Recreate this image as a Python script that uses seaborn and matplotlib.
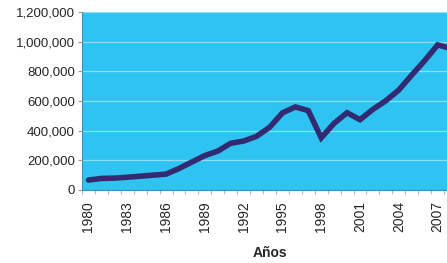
import numpy as np
import pandas as pd
import matplotlib
matplotlib.use("Agg")
import matplotlib.pyplot as plt
import seaborn as sns
from matplotlib.ticker import FuncFormatter, MultipleLocator

years = list(range(1980, 2009))
values = [67000, 78000, 80000, 86000, 93000, 100000, 107000, 145000, 189000, 232000,
          262000, 315000, 330000, 362000, 422000, 520000, 560000, 535000, 352000, 450000,
          521000, 474000, 544000, 602000, 674000, 775000, 872000, 978000, 955000]
label_years = [1980, 1983, 1986, 1989, 1992, 1995, 1998, 2001, 2004, 2007]

df = pd.DataFrame({"year": years, "value": values})

sns.set_style("white")
plt.rcParams['font.family'] = ['Liberation Sans', 'DejaVu Sans']

fig = plt.figure(figsize=(4.47, 2.63), dpi=100)
ax = fig.add_axes([82/447, 73/263, 375/447, 178/263])
ax.set_facecolor("#2fc3f1")

# grid
for v in range(200000, 1200001, 200000):
    ax.axhline(v, color="#8fdcf7", lw=0.9, zorder=1)

sns.lineplot(data=df, x="year", y="value", color="#322b72", lw=4, ax=ax,
             zorder=3, solid_joinstyle="miter")

ax.set_xlim(1979.5, 2008.5)
ax.set_ylim(0, 1200000)
ax.set_yticks(range(0, 1200001, 200000))
ax.yaxis.set_major_formatter(FuncFormatter(lambda v, p: f"{int(v):,}"))
ax.tick_params(axis="y", length=3, width=0.8, color="#999999", pad=2, labelsize=9.5,
               left=True)

ax.set_xticks(label_years)
ax.set_xticklabels([str(y) for y in label_years], rotation=90)
ax.xaxis.set_minor_locator(MultipleLocator(1, offset=0.5))
ax.tick_params(axis="x", which="major", length=0, pad=8, labelsize=10)
ax.tick_params(axis="x", which="minor", length=3, width=0.8, color="#aab8c8", bottom=True)

for s in ["top", "right"]:
    ax.spines[s].set_visible(False)
ax.spines["left"].set_color("#3a8fc4")
ax.spines["bottom"].set_color("#3a8fc4")

ax.set_ylabel("")
ax.set_xlabel("Años", fontsize=10, fontweight="bold", labelpad=10)

fig.savefig("out.png", dpi=100)
